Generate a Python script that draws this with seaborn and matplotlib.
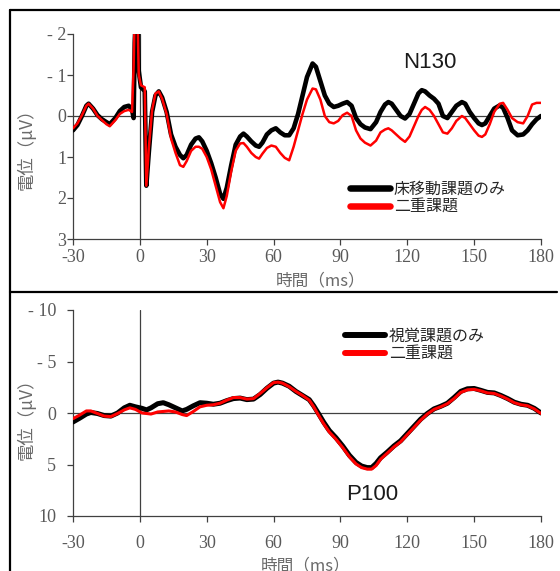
import numpy as np
import pandas as pd
import matplotlib
matplotlib.use("Agg")
import matplotlib.pyplot as plt
import seaborn as sns
from matplotlib.lines import Line2D

# --- top panel (N130): floor-movement task vs dual task ---
top_t = [-30, -28, -26, -24, -23, -21, -19, -17, -15, -13.5, -11, -9, -7, -5, -3.5,
         -2.8, -2.3, -1.8, -1.0, -0.5, 0.5, 1.5, 2.2, 2.9, 4, 5.5, 7, 8.5, 10, 12,
         14, 16, 18, 19.5, 21, 23, 25, 26.5, 28, 30, 32, 34, 36, 37.5, 39, 41, 43,
         45, 46.5, 48, 50, 52, 53.5, 55, 57, 59, 61, 63, 65, 67, 69, 71, 73, 75,
         77.5, 79, 81, 83, 85, 87, 89, 91, 93, 95, 97, 99, 101, 103.5, 106, 108,
         110, 111.5, 113, 115, 117, 119, 121, 123, 125, 126.5, 128, 130, 132, 134,
         136, 138, 140, 142, 144.5, 146, 148, 150, 152, 153.5, 155, 157, 159,
         161.5, 163, 165, 167, 169.5, 172, 174, 176, 178, 180]
top_floor = [0.35, 0.22, 0.0, -0.25, -0.3, -0.18, -0.02, 0.08, 0.15, 0.2, 0.05, -0.12,
             -0.22, -0.25, -0.15, 0.05, -1.8, -2.5, -2.5, -1.1, -0.7, -0.65, -0.6, 1.7,
             0.9, -0.1, -0.5, -0.6, -0.45, -0.1, 0.45, 0.75, 0.95, 1.03, 0.95, 0.7,
             0.55, 0.52, 0.62, 0.85, 1.15, 1.5, 1.9, 2.02, 1.75, 1.2, 0.7, 0.5, 0.43,
             0.5, 0.62, 0.72, 0.75, 0.65, 0.45, 0.35, 0.3, 0.4, 0.47, 0.47, 0.3, -0.05,
             -0.5, -0.95, -1.28, -1.2, -0.85, -0.5, -0.3, -0.22, -0.25, -0.3, -0.34,
             -0.25, 0.05, 0.2, 0.28, 0.32, 0.15, -0.1, -0.28, -0.34, -0.3, -0.15, 0.0,
             0.06, -0.05, -0.3, -0.55, -0.63, -0.6, -0.5, -0.42, -0.3, 0.0, 0.05, -0.1,
             -0.25, -0.34, -0.3, -0.1, 0.05, 0.18, 0.22, 0.18, 0.0, -0.18, -0.26, -0.2,
             0.05, 0.35, 0.47, 0.45, 0.35, 0.2, 0.08, 0.0]
top_dual = [0.3, 0.18, -0.02, -0.25, -0.3, -0.18, 0.0, 0.1, 0.2, 0.25, 0.1, -0.05,
            -0.12, -0.15, -0.1, -1.2, -2.5, -2.5, -2.3, -1.0, -0.75, -0.72, -0.7, 1.7,
            0.8, -0.15, -0.55, -0.6, -0.42, -0.05, 0.55, 0.9, 1.2, 1.24, 1.1, 0.85,
            0.75, 0.75, 0.8, 1.0, 1.3, 1.7, 2.1, 2.25, 1.95, 1.35, 0.85, 0.67, 0.66,
            0.75, 0.9, 1.0, 1.04, 0.92, 0.78, 0.72, 0.75, 0.9, 1.02, 1.08, 0.75, 0.35,
            -0.05, -0.4, -0.67, -0.65, -0.4, 0.0, 0.15, 0.18, 0.12, -0.02, -0.08, 0.0,
            0.35, 0.55, 0.65, 0.72, 0.6, 0.4, 0.33, 0.3, 0.35, 0.45, 0.55, 0.63, 0.5,
            0.25, 0.0, -0.15, -0.22, -0.15, 0.0, 0.2, 0.4, 0.43, 0.3, 0.12, 0.0, 0.05,
            0.2, 0.35, 0.48, 0.51, 0.45, 0.2, -0.1, -0.3, -0.32, -0.15, 0.05, 0.15,
            0.18, 0.0, -0.28, -0.32, -0.32]

# --- bottom panel (P100): visual task vs dual task ---
bot_t = [-30, -27, -24, -22, -19, -16, -13, -10, -7, -4.5, -2, 1, 3, 5, 8, 10.5, 13,
         16, 19, 21, 24, 27, 30, 33, 36, 39, 42, 45, 48, 51, 54, 57, 60, 62, 64, 67,
         70, 73, 76, 78, 80, 82.5, 85, 88, 91, 94, 97, 99.5, 102, 104, 106, 108, 111,
         114, 117, 120, 123, 126, 129, 132, 135, 138, 141, 144, 147, 150, 153, 156,
         159, 162, 165, 168, 171, 174, 177, 180]
bot_visual = [0.87, 0.5, 0.1, -0.05, 0.05, 0.25, 0.3, 0.0, -0.5, -0.75, -0.6, -0.45,
              -0.3, -0.5, -0.9, -1.0, -0.8, -0.5, -0.2, -0.35, -0.7, -1.0, -0.95,
              -0.85, -0.95, -1.2, -1.4, -1.45, -1.3, -1.35, -1.8, -2.4, -2.9, -3.0,
              -2.9, -2.6, -2.1, -1.7, -1.3, -0.7, 0.0, 0.9, 1.7, 2.4, 3.2, 4.1, 4.8,
              5.15, 5.3, 5.3, 4.9, 4.35, 3.8, 3.2, 2.7, 2.0, 1.3, 0.6, 0.05, -0.4,
              -0.65, -0.95, -1.5, -2.1, -2.35, -2.38, -2.2, -2.0, -1.95, -1.7, -1.4,
              -1.05, -0.85, -0.75, -0.45, 0.0]
bot_dual = [0.55, 0.2, -0.2, -0.2, 0.05, 0.3, 0.35, 0.05, -0.3, -0.5, -0.35, 0.0, 0.05,
            0.1, -0.1, -0.15, -0.2, -0.1, 0.15, 0.25, -0.15, -0.6, -0.75, -0.8, -0.95,
            -1.25, -1.5, -1.5, -1.35, -1.4, -1.9, -2.45, -2.95, -3.0, -2.9, -2.55,
            -2.1, -1.7, -1.25, -0.6, 0.15, 1.05, 1.85, 2.55, 3.35, 4.25, 4.95, 5.3,
            5.45, 5.45, 5.1, 4.5, 3.9, 3.3, 2.8, 2.1, 1.4, 0.7, 0.1, -0.35, -0.6, -0.9,
            -1.4, -2.0, -2.25, -2.3, -2.15, -1.95, -1.9, -1.65, -1.35, -1.0, -0.8,
            -0.7, -0.4, 0.05]

x_ticks = [-30, 0, 30, 60, 90, 120, 150, 180]
top_yticks = [-2, -1, 0, 1, 2, 3]
top_ylabels = ["- 2", "- 1", "0", "1", "2", "3"]
bot_yticks = [-10, -5, 0, 5, 10]
bot_ylabels = ["- 10", "- 5", "0", "5", "10"]

sns.set_style("white")
plt.rcParams['font.family'] = ['Noto Sans CJK JP', 'DejaVu Sans']

SPINE = '#404040'
TICKC = '#595959'
LABC = '#6a6a6a'
CJK = ['Noto Sans CJK JP', 'DejaVu Sans']

fig = plt.figure(figsize=(5.6, 5.71), dpi=100)
ax1 = fig.add_axes([73 / 560, 1 - 239 / 571, 468 / 560, 205 / 571])
ax2 = fig.add_axes([73 / 560, 1 - 516 / 571, 468 / 560, 206 / 571])

top_df = pd.DataFrame({'t': top_t, 'floor': top_floor, 'dual': top_dual})
bot_df = pd.DataFrame({'t': bot_t, 'visual': bot_visual, 'dual': bot_dual})


def style_axis(ax, yticks, ylabels, ylim, xpad, ypad):
    ax.axhline(0, color=SPINE, lw=0.9, zorder=1)
    ax.axvline(0, color=SPINE, lw=0.9, zorder=1)
    ax.set_xlim(-30, 180)
    ax.set_ylim(ylim)
    ax.set_xticks(x_ticks)
    ax.set_xticklabels([str(v) for v in x_ticks])
    ax.set_yticks(yticks)
    ax.set_yticklabels(ylabels)
    for s in ['top', 'right']:
        ax.spines[s].set_visible(False)
    for s in ['left', 'bottom']:
        ax.spines[s].set_color(SPINE)
        ax.spines[s].set_linewidth(0.9)
    ax.tick_params(axis='x', direction='out', length=4, width=0.9, color=SPINE,
                   labelcolor=TICKC, pad=xpad, bottom=True)
    ax.tick_params(axis='y', direction='out', length=4, width=0.9, color=SPINE,
                   labelcolor=TICKC, pad=ypad, left=True)
    for lab in ax.get_xticklabels() + ax.get_yticklabels():
        lab.set_fontfamily('Liberation Serif')
        lab.set_fontsize(13)
    ax.set_xlabel('時間（ms）', color=LABC, fontsize=12, family=CJK)
    ax.set_ylabel('電位（μV）', color=LABC, fontsize=12.5, family=CJK)


# top panel
sns.lineplot(data=top_df, x='t', y='floor', ax=ax1, color='black', lw=3.3,
             estimator=None, sort=False, label='床移動課題のみ', zorder=3)
sns.lineplot(data=top_df, x='t', y='dual', ax=ax1, color='red', lw=1.8,
             estimator=None, sort=False, label='二重課題', zorder=4)
style_axis(ax1, top_yticks, top_ylabels, (3, -2), 3, 1)
ax1.xaxis.set_label_coords(0.528, -0.165)
ax1.yaxis.set_label_coords(-0.08, 0.46)
leg1 = ax1.legend(loc='upper left', bbox_to_anchor=(0.592, 0.286), frameon=False,
                  fontsize=11.5, handlelength=2.5, handletextpad=0.25,
                  labelspacing=0.1, borderpad=0, borderaxespad=0)
for h in leg1.get_lines():
    h.set_linewidth(4.7)
ax1.text(0.763, 0.863, 'N130', transform=ax1.transAxes, ha='center', va='center',
         fontsize=16, family='Liberation Sans', color='#1a1a1a')

# bottom panel
sns.lineplot(data=bot_df, x='t', y='visual', ax=ax2, color='black', lw=3.6,
             estimator=None, sort=False, label='視覚課題のみ', zorder=3)
sns.lineplot(data=bot_df, x='t', y='dual', ax=ax2, color='red', lw=2.2,
             estimator=None, sort=False, label='二重課題', zorder=4)
style_axis(ax2, bot_yticks, bot_ylabels, (10, -10), 10, 8)
ax2.xaxis.set_label_coords(0.496, -0.2)
ax2.yaxis.set_label_coords(-0.08, 0.49)
leg2 = ax2.legend(loc='upper left', bbox_to_anchor=(0.581, 0.916), frameon=False,
                  fontsize=11.5, handlelength=2.5, handletextpad=0.25,
                  labelspacing=0.1, borderpad=0, borderaxespad=0)
for h in leg2.get_lines():
    h.set_linewidth(4.3)
ax2.text(0.64, 0.102, 'P100', transform=ax2.transAxes, ha='center', va='center',
         fontsize=16, family='Liberation Sans', color='#1a1a1a')

# panel frames
W, H = 560, 571
def frame_line(x0, y0, x1, y1):
    fig.add_artist(Line2D([x0 / W, x1 / W], [1 - y0 / H, 1 - y1 / H],
                          transform=fig.transFigure, color='black', lw=1.6))

frame_line(10, 10, 560, 10)
frame_line(10, 10, 10, 571)
frame_line(10, 292, 557, 292)

fig.savefig('out.png', dpi=100)
